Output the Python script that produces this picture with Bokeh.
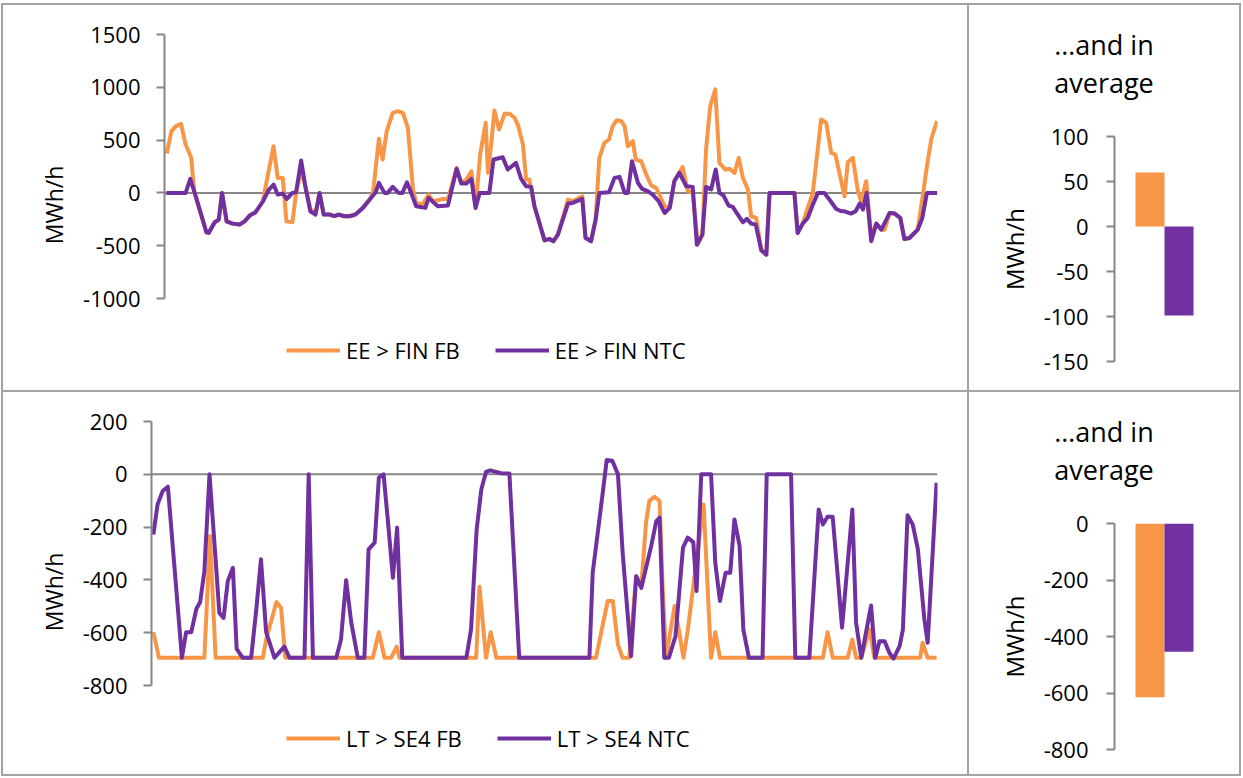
from bokeh.plotting import figure
from bokeh.models import Range1d, FixedTicker, Span, Legend, LegendItem, Div
from bokeh.layouts import column, row
from bokeh.embed import file_html
from bokeh.resources import INLINE

FONT = "Open Sans"
ORANGE = "#F79646"
PURPLE = "#7030A0"
AXIS = "#868686"
BORDER = "#a3a3a3"

# ---------------- data: EE > FIN (hour, MWh/h) ----------------
ee_fb_hour = [0.5, 1.5, 2.5, 3.6, 4.6, 5.8, 6.5, 9.1, 9.6, 10.9, 11.8, 12.5, 13.5, 14.8, 16.3, 17.4,
              18.5, 19.8, 21.4, 21.7, 23.7, 24.6, 25.7, 26.5, 27.8, 28.6, 29.7, 30.6, 31.7, 32.8,
              33.7, 34.6, 35.9, 36.9, 37.9, 39.1, 40.2, 41.5, 43.1, 44.6, 45.3, 46.6, 47.4, 48.3,
              49.6, 50.7, 51.8, 52.9, 54.0, 54.7, 56.1, 57.4, 58.3, 59.4, 60.5, 61.6, 63.5, 64.5,
              65.6, 66.7, 67.6, 68.6, 69.8, 70.3, 71.0, 71.7, 72.7, 73.9, 75.0, 76.1, 76.9, 77.9,
              78.6, 79.3, 80.4, 82.6, 83.7, 84.5, 85.5, 87.7, 88.7, 90.8, 91.5, 92.7, 93.7, 94.5,
              95.6, 96.6, 97.4, 98.3, 99.3, 100.0, 100.7, 101.8, 102.4, 103.6, 104.7, 105.8, 106.9,
              107.7, 108.7, 109.8, 110.8, 112.6, 113.7, 114.8, 115.9, 116.9, 117.7, 118.6, 119.7,
              120.6, 121.9, 122.8, 123.9, 124.8, 125.7, 126.8, 127.5, 128.6, 129.7, 130.8, 131.5,
              136.9, 137.6, 138.7, 139.8, 140.9, 142.7, 143.8, 144.9, 145.8, 147.8, 148.5, 149.6,
              150.7, 151.4, 152.5, 153.6, 154.7, 155.8, 156.5, 157.6, 158.7, 159.9, 160.8, 161.9,
              163.7, 164.9, 165.7, 166.7, 167.9]
ee_fb = [373, 585, 632, 654, 458, 332, 0, -373, -379, -278, -253, 0, -269, -291, -300, -269,
         -215, -183, -79, 0, 442, 142, 142, -269, -278, 0, 220, 63, -150, -205,
         0, -205, -205, -221, -205, -221, -221, -205, -142, -63, 0, 512, 316, 585,
         758, 774, 758, 616, 32, -95, -110, -16, -79, -70, -57, -57, 237, 95,
         126, 205, -142, 363, 664, 190, 460, 780, 600, 749, 749, 711, 632, 458,
         126, 126, -126, -449, -436, -458, -395, -63, -79, -32, -417, -458, -253, 332,
         474, 506, 632, 689, 679, 632, 442, 490, 316, 300, 174, 70, 47,
         -32, -126, -142, 111, 246, 20, 0, -490, -395, 411, 822, 980,
         284, 221, 228, 190, 332, 142, 32, -221, -237, -543, -585, 0,
         0, -379, -291, -142, 0, 695, 664, 379, 363, -32, 291, 332,
         16, -79, 111, -411, -291, -348, -348, -190, -196, -237, -436, -427,
         -348, 0, 253, 521, 679]

ee_ntc_hour = [0.4, 4.6, 5.6, 6.9, 9.1, 9.6, 10.9, 11.8, 12.5, 13.5, 14.8, 16.3, 17.4, 18.5, 19.8,
               21.4, 22.7, 23.7, 24.6, 25.7, 26.6, 27.8, 28.6, 29.7, 30.6, 31.7, 32.8, 33.7, 34.6,
               35.9, 36.9, 37.9, 39.1, 40.2, 41.5, 43.1, 44.6, 45.9, 46.6, 47.8, 48.5, 49.6, 50.9,
               51.7, 52.7, 53.6, 54.7, 56.7, 57.4, 59.4, 61.6, 63.5, 64.5, 65.6, 66.7, 67.6, 68.5,
               70.6, 71.5, 73.5, 74.6, 76.4, 77.5, 78.6, 79.7, 80.4, 82.6, 83.7, 84.5, 85.5, 87.7,
               88.7, 90.8, 91.5, 92.7, 93.7, 94.5, 96.6, 97.8, 98.9, 100.0, 100.7, 101.6, 102.9,
               103.8, 105.0, 106.1, 107.4, 108.7, 109.8, 110.8, 111.9, 113.4, 114.8, 115.7, 116.9,
               117.7, 118.8, 119.8, 120.6, 121.5, 122.6, 123.5, 124.6, 125.7, 126.6, 127.5, 128.5,
               129.7, 130.8, 131.5, 136.9, 137.6, 138.7, 139.8, 140.9, 142.0, 143.4, 144.5, 146.0,
               147.1, 147.8, 149.2, 150.2, 151.1, 151.8, 152.6, 153.6, 154.7, 155.8, 157.6, 158.7,
               159.9, 160.8, 161.9, 163.7, 164.7, 165.7, 167.9]
ee_ntc = [0, 0, 133, -47, -373, -379, -278, -253, 0, -269, -291, -300, -269, -215, -183,
          -79, 32, 79, -16, -6, -57, 0, 6, 307, 63, -174, -205, 0, -205,
          -205, -221, -205, -221, -221, -205, -142, -63, 6, 95, 0, 0, 57, 0,
          0, 101, 0, -126, -142, -47, -126, -120, 228, 88, 88, 133, -142, 0,
          0, 316, 338, 221, 284, 133, 63, 57, -126, -449, -436, -458, -395, -101,
          -95, -57, -427, -458, -253, 0, 6, 142, 152, 0, 0, 300, 95,
          38, 16, -16, -79, -190, -142, 111, 190, 63, 57, -490, -395,
          57, 32, 221, 0, -25, -120, -133, -205, -278, -246, -291, -300,
          -543, -585, 0, 0, -379, -291, -237, -111, 0, 0, -63, -152,
          -174, -174, -196, -174, -101, -158, 0, -458, -291, -348, -190, -196,
          -237, -436, -427, -348, -237, 0, 0]

# ---------------- data: LT > SE4 (hour, MWh/h) ----------------
lt_fb_hour = [0.4, 1.6, 11.3, 12.5, 13.7, 23.8, 24.5, 26.7, 27.7, 28.6, 47.3, 48.6, 49.8, 51.2,
              52.4, 53.0, 69.4, 70.1, 71.5, 72.5, 73.7, 95.0, 97.5, 98.6, 99.7, 100.7, 102.1,
              103.6, 104.7, 105.7, 106.4, 107.5, 108.6, 109.3, 110.0, 111.8, 112.7, 113.7, 114.6,
              118.0, 119.6, 120.5, 121.5, 143.5, 144.5, 145.6, 148.8, 149.8, 150.6, 151.7, 153.5,
              154.5, 164.3, 164.8, 165.9, 167.8]
lt_fb = [-598, -695, -695, -234, -695, -695, -626, -484, -506, -695, -695, -598, -695, -695,
         -653, -695, -695, -426, -695, -598, -695, -695, -480, -480, -645, -695, -695,
         -386, -423, -183, -101, -85, -101, -450, -695, -499, -588, -695, -594,
         -114, -695, -598, -695, -695, -598, -695, -695, -626, -695, -695, -588,
         -695, -695, -638, -695, -695]

lt_ntc_hour = [0.4, 1.3, 2.4, 3.5, 6.5, 7.4, 8.5, 9.6, 10.4, 11.3, 12.4, 13.7, 14.5, 15.4, 16.3,
               17.4, 18.2, 19.5, 21.3, 22.4, 23.4, 24.5, 26.3, 28.4, 29.5, 32.7, 33.6, 34.5, 39.5,
               40.5, 41.6, 42.7, 44.1, 45.5, 46.4, 47.7, 48.6, 49.6, 50.5, 51.6, 52.5, 53.6, 67.3,
               68.3, 69.5, 70.5, 71.5, 72.4, 74.7, 76.5, 78.6, 93.6, 94.3, 96.1, 97.3, 98.5, 99.7,
               100.7, 102.5, 103.6, 104.7, 106.8, 107.9, 108.6, 109.6, 110.6, 112.0, 113.6, 114.6,
               115.8, 116.5, 117.5, 119.6, 120.5, 121.5, 122.7, 123.7, 124.6, 125.7, 126.5, 127.7,
               130.6, 131.5, 136.7, 137.6, 140.6, 142.6, 143.5, 144.5, 145.6, 147.6, 149.8, 150.6,
               151.7, 153.8, 154.7, 155.6, 156.7, 157.7, 158.6, 159.9, 160.6, 161.6, 162.7, 163.8,
               165.2, 165.9, 167.8]
lt_ntc = [-228, -114, -63, -47, -695, -598, -598, -509, -484, -367, 0, -322, -525, -544, -405,
          -354, -661, -695, -695, -512, -322, -598, -695, -653, -695, -695, 0, -695, -695,
          -626, -401, -562, -695, -695, -284, -259, -13, 0, -171, -392, -202, -695, -695,
          -588, -209, -57, 9, 15, 4, 3, -695, -695, -373, -120, 54, 51, 0,
          -297, -689, -386, -430, -272, -177, -164, -695, -695, -613, -278, -240,
          -257, -442, 0, 0, -335, -480, -373, -373, -171, -272, -588, -695,
          -695, 0, 0, -695, -695, -133, -190, -161, -161, -581, -133, -562,
          -695, -497, -695, -632, -632, -676, -698, -651, -588, -155, -190, -284,
          -550, -638, -32]

# ---------------- data: averages ----------------
avg_series = ["FB", "NTC"]
ee_avg = [60, -99]
lt_avg = [-615, -454]

top_ticks = [-1000, -500, 0, 500, 1000, 1500]
bot_ticks = [-800, -600, -400, -200, 0, 200]
ee_avg_ticks = [-150, -100, -50, 0, 50, 100]
lt_avg_ticks = [-800, -600, -400, -200, 0]
avg_title = "\u2026and in<br>average"


def style_yaxis(p, ticks, label_standoff, axis_standoff, label_size="23px"):
    ax = p.yaxis[0]
    ax.ticker = FixedTicker(ticks=ticks, minor_ticks=[])
    ax.bounds = (min(ticks), max(ticks))
    ax.major_label_overrides = {t: str(t) for t in ticks}
    ax.axis_line_color = AXIS
    ax.axis_line_width = 2
    ax.major_tick_line_color = AXIS
    ax.major_tick_line_width = 2
    ax.major_tick_in = 0
    ax.major_tick_out = 8
    ax.minor_tick_line_color = None
    ax.major_label_text_font = FONT
    ax.major_label_text_font_size = "22px"
    ax.major_label_text_color = "black"
    ax.major_label_standoff = label_standoff
    ax.axis_label = "MWh/h"
    ax.axis_label_text_font = FONT
    ax.axis_label_text_font_size = label_size
    ax.axis_label_text_font_style = "normal"
    ax.axis_label_text_color = "black"
    ax.axis_label_standoff = axis_standoff


def line_panel(width, height, left, right, top, bottom, data_px, ticks,
               xfb, yfb, xntc, yntc, names, legend_xy):
    # y range: ticks occupy data_px pixels from the frame top; frame extends below for the legend
    frame_px = height - top - bottom
    lo, hi = min(ticks), max(ticks)
    ystart = hi - (hi - lo) * frame_px / data_px
    p = figure(width=width, height=height, x_range=Range1d(0, 168), y_range=Range1d(ystart, hi),
               x_axis_location=None, toolbar_location=None, output_backend="svg", title=None,
               min_border_left=left, min_border_right=right, min_border_top=top,
               min_border_bottom=bottom, frame_align=False,
               styles={"background-color": "white"})
    p.outline_line_color = None
    p.grid.grid_line_color = None
    p.background_fill_color = None
    p.border_fill_color = None
    style_yaxis(p, ticks, 16, 10)
    p.add_layout(Span(location=0, dimension="width", line_color=AXIS, line_width=2,
                      level="underlay"))
    r1 = p.line(xfb, yfb, line_color=ORANGE, line_width=4, line_join="round")
    r2 = p.line(xntc, yntc, line_color=PURPLE, line_width=4, line_join="round")
    lg = Legend(items=[LegendItem(label=names[0], renderers=[r1]),
                       LegendItem(label=names[1], renderers=[r2])],
                orientation="horizontal", location=legend_xy, padding=0, margin=0,
                spacing=35, label_standoff=6, glyph_width=54, glyph_height=20,
                label_height=20, label_text_font=FONT, label_text_font_size="22px",
                label_text_color="black", border_line_color=None, background_fill_alpha=0)
    p.add_layout(lg)
    return p


def bar_panel(width, height, head, top, bottom, yr, ticks, vals):
    div = Div(text='<div style="padding-top:21px">' + avg_title + '</div>',
              width=width, height=head, margin=0,
              styles={"background-color": "white", "font-family": FONT, "font-size": "27px",
                      "line-height": "38px", "text-align": "center", "color": "black"})
    p = figure(width=width, height=height - head, x_range=Range1d(-0.724, 2.724),
               y_range=Range1d(*yr), x_axis_location=None, toolbar_location=None,
               output_backend="svg", title=None, min_border_left=145, min_border_right=25,
               min_border_top=top, min_border_bottom=bottom, frame_align=False,
               styles={"background-color": "white"})
    p.outline_line_color = None
    p.grid.grid_line_color = None
    p.background_fill_color = None
    p.border_fill_color = None
    style_yaxis(p, ticks, 18, 10, "24px")
    xs = [i + 0.5 for i in range(len(avg_series))]
    p.vbar(x=xs, width=1.0, top=vals, bottom=0, fill_color=[ORANGE, PURPLE], line_color=None)
    return column(div, p, spacing=0, margin=0)


p1 = line_panel(964, 385, 161, 30, 29, 15, 264, top_ticks,
                ee_fb_hour, ee_fb, ee_ntc_hour, ee_ntc, ["EE > FIN FB", "EE > FIN NTC"], (122, 10))
p2 = bar_panel(270, 385, 110, 21, 29, (-150, 100), ee_avg_ticks, ee_avg)
p3 = line_panel(964, 382, 148, 30, 29, 12, 264, bot_ticks,
                lt_fb_hour, lt_fb, lt_ntc_hour, lt_ntc, ["LT > SE4 FB", "LT > SE4 NTC"], (135, 9))
p4 = bar_panel(270, 382, 110, 21, 25, (-800, 0), lt_avg_ticks, lt_avg)

layout = column(row(p1, p2, spacing=2), row(p3, p4, spacing=2), spacing=2,
                styles={"background-color": BORDER, "padding": "2px",
                        "margin-left": "1px", "margin-top": "3px"})

open("out.html", "w").write(file_html(layout, INLINE))
